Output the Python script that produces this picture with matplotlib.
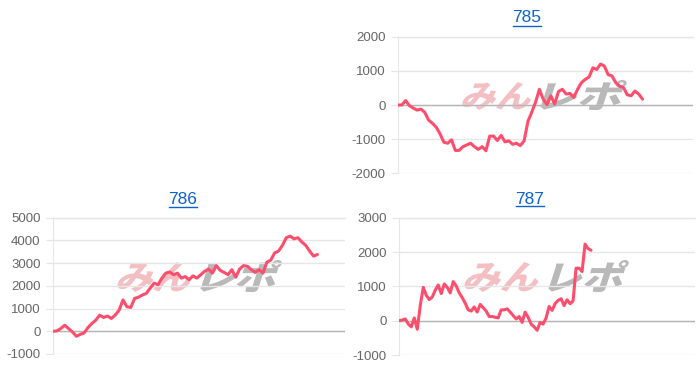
import numpy as np
import matplotlib
matplotlib.use('Agg')
import matplotlib.pyplot as plt
from matplotlib.textpath import TextPath
from matplotlib.patches import PathPatch
from matplotlib.font_manager import FontProperties
from matplotlib.transforms import Affine2D
from matplotlib.lines import Line2D

# 差枚推移 (台番号ごと)
titles = ['785', '786', '787']

diff_785 = [0, 0, 130, -20, -90, -150, -120, -215, -440, -535,
            -650, -845, -1090, -1120, -1020, -1330, -1330, -1220, -1170, -1120,
            -1220, -1300, -1220, -1340, -910, -910, -1040, -890, -1080, -1050,
            -1150, -1120, -1190, -1050, -480, -210, 80, 460, 170, 10,
            270, 30, 395, 460, 320, 340, 220, 460, 655, 750,
            820, 1090, 1040, 1200, 1140, 890, 850, 650, 550, 510,
            300, 270, 410, 320, 170]

diff_786 = [0, 15, 120, 265, 120, -30, -220, -135, -75, 165,
            345, 490, 710, 610, 670, 565, 710, 930, 1380, 1080,
            1050, 1450, 1500, 1600, 1670, 1900, 2120, 2050, 2340, 2560,
            2610, 2490, 2560, 2340, 2410, 2270, 2440, 2340, 2490, 2640,
            2740, 2560, 2890, 2680, 2590, 2490, 2710, 2380, 2740, 2890,
            2860, 2710, 2590, 2710, 2560, 3040, 3130, 3450, 3530, 3780,
            4120, 4190, 4070, 4120, 3930, 3780, 3530, 3310, 3380]

diff_787 = [0, 20, 50, -100, -180, 80, -250, 445, 970, 740,
            615, 690, 890, 1040, 790, 1070, 970, 810, 1140, 1010,
            810, 670, 510, 315, 280, 400, 250, 475, 375, 280,
            120, 120, 100, 80, 315, 315, 345, 250, 150, 50,
            120, -50, 250, 100, -100, -180, -280, -50, -100, 80,
            415, 300, 495, 590, 640, 440, 610, 495, 575, 1530,
            1530, 1430, 2230, 2100, 2050]

yticks_785 = [-2000, -1000, 0, 1000, 2000]
yticks_786 = [-1000, 0, 1000, 2000, 3000, 4000, 5000]
yticks_787 = [-1000, 0, 1000, 2000, 3000]

W, H = 700, 368
LINE_COLOR = '#ff4d6d'
TITLE_COLOR = '#0b63ce'
GRID_COLOR = '#e6e6e6'

fig = plt.figure(figsize=(W / 100, H / 100), dpi=100)


def px_rect(left, top, right, bottom):
    return [left / W, 1 - bottom / H, (right - left) / W, (bottom - top) / H]


def add_logo(ax, left, top, right, bottom, text, color, skew=18):
    fp = FontProperties(family='Noto Sans CJK JP', weight='black')
    tp = TextPath((0, 0), text, size=1, prop=fp)
    bb = tp.get_extents()
    h = bottom - top
    w = (right - left) - h * np.tan(np.radians(skew))
    tr = (Affine2D().translate(-bb.x0, -bb.y0)
          .scale(w / bb.width, h / bb.height)
          .skew_deg(skew, 0)
          .translate(left, H - bottom))
    patch = PathPatch(tp, transform=tr, facecolor=color, edgecolor='none',
                      zorder=1, clip_on=False)
    ax.add_artist(patch)


def add_title(text, cx, cy, ul_y):
    t = fig.text(cx / W, 1 - cy / H, text, ha='center', va='center',
                 color=TITLE_COLOR, fontsize=12.5, family='Liberation Sans')
    half = 14
    fig.add_artist(Line2D([(cx - half) / W, (cx + half) / W],
                          [1 - ul_y / H, 1 - ul_y / H],
                          color=TITLE_COLOR, lw=1))
    return t


def draw_chart(rect, values, yticks, x_max, logo_box):
    ax = fig.add_axes(rect)
    x = np.arange(len(values))
    ax.plot(x, values, color=LINE_COLOR, lw=2.2, zorder=3,
            solid_joinstyle='round', solid_capstyle='round')
    ax.set_xlim(0, x_max)
    ax.set_ylim(yticks[0], yticks[-1])
    ax.set_yticks(yticks)
    ax.set_yticklabels([str(v) for v in yticks])
    ax.set_xticks([])
    ax.grid(axis='y', color=GRID_COLOR, lw=1, zorder=0)
    ax.axhline(0, color='#b5b5b5', lw=1, zorder=2)
    ax.axhline(yticks[-1], color=GRID_COLOR, lw=1, zorder=0, clip_on=False)
    for s in ['top', 'right', 'bottom']:
        ax.spines[s].set_visible(False)
    ax.spines['left'].set_color(GRID_COLOR)
    ax.tick_params(axis='y', length=5, color=GRID_COLOR, pad=4,
                   labelsize=9.5, labelcolor='#666666')
    for lab in ax.get_yticklabels():
        lab.set_family('Liberation Sans')
    ax.set_facecolor('white')
    pl, pr, gr, top, bottom = logo_box
    add_logo(ax, pl, top, pr, bottom, 'みん', (0.88, 0.35, 0.38, 0.38))
    add_logo(ax, pr + 2, top - 2, gr, bottom, 'レポ', (0.5, 0.5, 0.5, 0.55))
    return ax


draw_chart(px_rect(398, 36.7, 693, 173.3), diff_785, yticks_785, 77.2,
           (460, 537, 628, 82, 110))
draw_chart(px_rect(53, 217.7, 345, 354), diff_786, yticks_786, 75.1,
           (115, 197, 283, 262, 292))
draw_chart(px_rect(399.3, 217.7, 695, 355), diff_787, yticks_787, 98.7,
           (462, 545, 630, 262, 292))

add_title(titles[0], 527, 18, 25.5)
add_title(titles[1], 182.5, 199, 206.5)
add_title(titles[2], 529.5, 199, 206)

fig.savefig('out.png', dpi=100)
